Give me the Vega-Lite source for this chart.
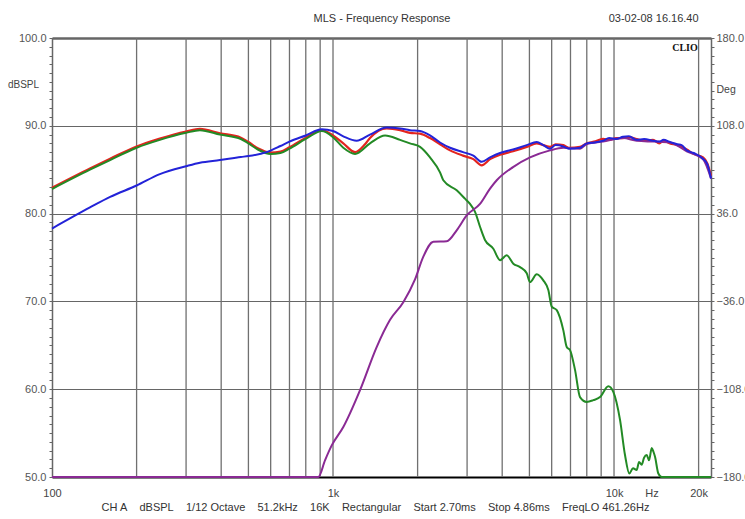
{
  "$schema": "https://vega.github.io/schema/vega-lite/v6.json",
  "width": 659,
  "height": 439,
  "autosize": "none",
  "padding": {"left": 52, "top": 38, "right": 34, "bottom": 42},
  "background": "white",
  "config": {
    "font": "Liberation Sans",
    "view": {"stroke": "#666", "strokeWidth": 1}
  },
  "datasets": {
    "grid": [
      {"f": 200}, {"f": 300}, {"f": 400}, {"f": 500}, {"f": 600}, {"f": 700}, {"f": 800}, {"f": 900},
      {"f": 1000}, {"f": 2000}, {"f": 3000}, {"f": 4000}, {"f": 5000}, {"f": 6000}, {"f": 7000}, {"f": 8000}, {"f": 9000},
      {"f": 10000}, {"f": 20000}
    ],
    "curves": [
      {"s": "red", "f": 100, "db": 82.95}, {"s": "red", "f": 136.5, "db": 85.15}, {"s": "red", "f": 161, "db": 86.25},
      {"s": "red", "f": 200, "db": 87.65}, {"s": "red", "f": 242, "db": 88.55}, {"s": "red", "f": 300, "db": 89.35},
      {"s": "red", "f": 336, "db": 89.65}, {"s": "red", "f": 396, "db": 89.15}, {"s": "red", "f": 470, "db": 88.65},
      {"s": "red", "f": 500, "db": 88.15}, {"s": "red", "f": 540, "db": 87.45}, {"s": "red", "f": 600, "db": 86.95},
      {"s": "red", "f": 650, "db": 87.05}, {"s": "red", "f": 700, "db": 87.55}, {"s": "red", "f": 800, "db": 88.65},
      {"s": "red", "f": 912, "db": 89.5}, {"s": "red", "f": 1000, "db": 88.9}, {"s": "red", "f": 1088, "db": 88.0},
      {"s": "red", "f": 1198, "db": 87.0}, {"s": "red", "f": 1300, "db": 87.9}, {"s": "red", "f": 1354, "db": 88.6},
      {"s": "red", "f": 1553, "db": 89.7}, {"s": "red", "f": 1732, "db": 89.5}, {"s": "red", "f": 1879, "db": 89.2},
      {"s": "red", "f": 2040, "db": 89.1}, {"s": "red", "f": 2214, "db": 88.6}, {"s": "red", "f": 2403, "db": 87.9},
      {"s": "red", "f": 2609, "db": 87.2}, {"s": "red", "f": 2901, "db": 86.6}, {"s": "red", "f": 3158, "db": 86.2},
      {"s": "red", "f": 3382, "db": 85.5}, {"s": "red", "f": 3621, "db": 86.2}, {"s": "red", "f": 3930, "db": 86.7},
      {"s": "red", "f": 4372, "db": 87.1}, {"s": "red", "f": 4891, "db": 87.6}, {"s": "red", "f": 5308, "db": 88.0},
      {"s": "red", "f": 5920, "db": 87.6}, {"s": "red", "f": 6200, "db": 87.9}, {"s": "red", "f": 6602, "db": 87.8},
      {"s": "red", "f": 6900, "db": 87.5}, {"s": "red", "f": 7568, "db": 87.6}, {"s": "red", "f": 7995, "db": 88.0},
      {"s": "red", "f": 8500, "db": 88.2}, {"s": "red", "f": 9140, "db": 88.5}, {"s": "red", "f": 9600, "db": 88.4},
      {"s": "red", "f": 10200, "db": 88.6}, {"s": "red", "f": 10765, "db": 88.6}, {"s": "red", "f": 11300, "db": 88.7},
      {"s": "red", "f": 12044, "db": 88.5}, {"s": "red", "f": 12800, "db": 88.3}, {"s": "red", "f": 13767, "db": 88.4},
      {"s": "red", "f": 14500, "db": 88.0}, {"s": "red", "f": 15000, "db": 88.3}, {"s": "red", "f": 15822, "db": 88.0},
      {"s": "red", "f": 16800, "db": 87.8}, {"s": "red", "f": 17400, "db": 87.6}, {"s": "red", "f": 18145, "db": 87.3},
      {"s": "red", "f": 19200, "db": 86.8}, {"s": "red", "f": 20739, "db": 86.4}, {"s": "red", "f": 21500, "db": 85.7},
      {"s": "red", "f": 22137, "db": 84.3},

      {"s": "green", "f": 100, "db": 82.8}, {"s": "green", "f": 136.5, "db": 85.0}, {"s": "green", "f": 161, "db": 86.1},
      {"s": "green", "f": 200, "db": 87.5}, {"s": "green", "f": 242, "db": 88.4}, {"s": "green", "f": 300, "db": 89.2},
      {"s": "green", "f": 336, "db": 89.5}, {"s": "green", "f": 396, "db": 89.0}, {"s": "green", "f": 470, "db": 88.5},
      {"s": "green", "f": 500, "db": 88.0}, {"s": "green", "f": 540, "db": 87.3}, {"s": "green", "f": 600, "db": 86.8},
      {"s": "green", "f": 650, "db": 86.9}, {"s": "green", "f": 700, "db": 87.4}, {"s": "green", "f": 800, "db": 88.5},
      {"s": "green", "f": 912, "db": 89.4}, {"s": "green", "f": 1000, "db": 88.7}, {"s": "green", "f": 1088, "db": 87.5},
      {"s": "green", "f": 1198, "db": 86.8}, {"s": "green", "f": 1354, "db": 88.0}, {"s": "green", "f": 1532, "db": 88.9},
      {"s": "green", "f": 1732, "db": 88.4}, {"s": "green", "f": 1879, "db": 88.0}, {"s": "green", "f": 2040, "db": 87.6},
      {"s": "green", "f": 2214, "db": 86.4}, {"s": "green", "f": 2403, "db": 84.7}, {"s": "green", "f": 2469, "db": 83.8},
      {"s": "green", "f": 2755, "db": 82.65}, {"s": "green", "f": 2949, "db": 81.7}, {"s": "green", "f": 3073, "db": 81.1},
      {"s": "green", "f": 3202, "db": 80.2}, {"s": "green", "f": 3335, "db": 78.5}, {"s": "green", "f": 3474, "db": 77.0},
      {"s": "green", "f": 3720, "db": 76.0}, {"s": "green", "f": 3930, "db": 74.7}, {"s": "green", "f": 4151, "db": 75.25},
      {"s": "green", "f": 4382, "db": 74.3}, {"s": "green", "f": 4630, "db": 73.9}, {"s": "green", "f": 4891, "db": 73.2},
      {"s": "green", "f": 5024, "db": 72.2}, {"s": "green", "f": 5308, "db": 73.1}, {"s": "green", "f": 5603, "db": 72.4},
      {"s": "green", "f": 5838, "db": 71.3}, {"s": "green", "f": 6002, "db": 69.4}, {"s": "green", "f": 6254, "db": 69.0},
      {"s": "green", "f": 6602, "db": 66.7}, {"s": "green", "f": 6788, "db": 64.8}, {"s": "green", "f": 6974, "db": 64.45},
      {"s": "green", "f": 7265, "db": 62.2}, {"s": "green", "f": 7568, "db": 59.1}, {"s": "green", "f": 7995, "db": 58.55},
      {"s": "green", "f": 8440, "db": 58.75}, {"s": "green", "f": 8917, "db": 59.1}, {"s": "green", "f": 9544, "db": 60.35},
      {"s": "green", "f": 9942, "db": 59.7}, {"s": "green", "f": 10505, "db": 56.5}, {"s": "green", "f": 10942, "db": 52.5},
      {"s": "green", "f": 11335, "db": 50.4}, {"s": "green", "f": 11684, "db": 51.0}, {"s": "green", "f": 12044, "db": 50.8},
      {"s": "green", "f": 12274, "db": 51.7}, {"s": "green", "f": 12548, "db": 51.4}, {"s": "green", "f": 12790, "db": 52.2},
      {"s": "green", "f": 13073, "db": 52.5}, {"s": "green", "f": 13325, "db": 51.9}, {"s": "green", "f": 13621, "db": 53.3},
      {"s": "green", "f": 13824, "db": 52.85}, {"s": "green", "f": 13994, "db": 52.3}, {"s": "green", "f": 14378, "db": 50.4},
      {"s": "green", "f": 14786, "db": 50.0}, {"s": "green", "f": 22137, "db": 50.0},

      {"s": "purple", "f": 100, "db": 50.0}, {"s": "purple", "f": 886.6, "db": 50.0}, {"s": "purple", "f": 936.5, "db": 51.9},
      {"s": "purple", "f": 989.5, "db": 53.6}, {"s": "purple", "f": 1088, "db": 55.7}, {"s": "purple", "f": 1248, "db": 59.9},
      {"s": "purple", "f": 1430, "db": 64.8}, {"s": "purple", "f": 1596, "db": 67.9}, {"s": "purple", "f": 1779, "db": 69.9},
      {"s": "purple", "f": 1958, "db": 72.5}, {"s": "purple", "f": 2096, "db": 75.1}, {"s": "purple", "f": 2275, "db": 76.8},
      {"s": "purple", "f": 2539, "db": 76.85}, {"s": "purple", "f": 2755, "db": 78.1}, {"s": "purple", "f": 2991, "db": 79.8},
      {"s": "purple", "f": 3335, "db": 81.1}, {"s": "purple", "f": 3621, "db": 82.85}, {"s": "purple", "f": 3825, "db": 83.8},
      {"s": "purple", "f": 4372, "db": 85.3}, {"s": "purple", "f": 5024, "db": 86.4}, {"s": "purple", "f": 5920, "db": 87.2},
      {"s": "purple", "f": 6602, "db": 87.5}, {"s": "purple", "f": 7568, "db": 87.4}, {"s": "purple", "f": 7995, "db": 87.9},
      {"s": "purple", "f": 9140, "db": 88.2}, {"s": "purple", "f": 10765, "db": 88.6}, {"s": "purple", "f": 12044, "db": 88.3},
      {"s": "purple", "f": 13767, "db": 88.2}, {"s": "purple", "f": 15822, "db": 88.1}, {"s": "purple", "f": 18145, "db": 87.1},
      {"s": "purple", "f": 20739, "db": 86.2}, {"s": "purple", "f": 22137, "db": 84.0},

      {"s": "blue", "f": 100, "db": 78.3}, {"s": "blue", "f": 136.5, "db": 80.7}, {"s": "blue", "f": 161, "db": 81.9},
      {"s": "blue", "f": 200, "db": 83.2}, {"s": "blue", "f": 242, "db": 84.5}, {"s": "blue", "f": 300, "db": 85.4},
      {"s": "blue", "f": 336, "db": 85.8}, {"s": "blue", "f": 396, "db": 86.1}, {"s": "blue", "f": 470, "db": 86.45},
      {"s": "blue", "f": 500, "db": 86.55}, {"s": "blue", "f": 580, "db": 87.0}, {"s": "blue", "f": 650, "db": 87.7},
      {"s": "blue", "f": 700, "db": 88.2}, {"s": "blue", "f": 800, "db": 88.9}, {"s": "blue", "f": 912, "db": 89.6},
      {"s": "blue", "f": 1000, "db": 89.4}, {"s": "blue", "f": 1088, "db": 88.8}, {"s": "blue", "f": 1214, "db": 88.3},
      {"s": "blue", "f": 1354, "db": 89.0}, {"s": "blue", "f": 1553, "db": 89.8}, {"s": "blue", "f": 1732, "db": 89.7},
      {"s": "blue", "f": 1879, "db": 89.5}, {"s": "blue", "f": 2040, "db": 89.4}, {"s": "blue", "f": 2214, "db": 88.9},
      {"s": "blue", "f": 2403, "db": 88.1}, {"s": "blue", "f": 2609, "db": 87.5}, {"s": "blue", "f": 2901, "db": 87.0},
      {"s": "blue", "f": 3158, "db": 86.6}, {"s": "blue", "f": 3382, "db": 85.9}, {"s": "blue", "f": 3621, "db": 86.4},
      {"s": "blue", "f": 3930, "db": 86.9}, {"s": "blue", "f": 4372, "db": 87.3}, {"s": "blue", "f": 4891, "db": 87.8},
      {"s": "blue", "f": 5308, "db": 88.15}, {"s": "blue", "f": 5600, "db": 87.8}, {"s": "blue", "f": 5920, "db": 87.4},
      {"s": "blue", "f": 6200, "db": 87.8}, {"s": "blue", "f": 6602, "db": 87.65}, {"s": "blue", "f": 6900, "db": 87.4},
      {"s": "blue", "f": 7568, "db": 87.5}, {"s": "blue", "f": 7995, "db": 88.0}, {"s": "blue", "f": 8500, "db": 88.1},
      {"s": "blue", "f": 9140, "db": 88.3}, {"s": "blue", "f": 9600, "db": 88.6}, {"s": "blue", "f": 10200, "db": 88.5},
      {"s": "blue", "f": 10765, "db": 88.75}, {"s": "blue", "f": 11300, "db": 88.8}, {"s": "blue", "f": 12044, "db": 88.4},
      {"s": "blue", "f": 12800, "db": 88.5}, {"s": "blue", "f": 13767, "db": 88.3}, {"s": "blue", "f": 14500, "db": 88.2},
      {"s": "blue", "f": 15000, "db": 88.4}, {"s": "blue", "f": 15822, "db": 88.15}, {"s": "blue", "f": 16800, "db": 87.9},
      {"s": "blue", "f": 17400, "db": 87.8}, {"s": "blue", "f": 18145, "db": 87.2}, {"s": "blue", "f": 19200, "db": 86.9},
      {"s": "blue", "f": 20739, "db": 86.25}, {"s": "blue", "f": 21500, "db": 85.6}, {"s": "blue", "f": 22137, "db": 84.0}
    ]
  },
  "layer": [
    {
      "encoding": {
        "x": {
          "field": "f",
          "type": "quantitative",
          "scale": {"type": "log", "domain": [100, 22137], "nice": false},
          "axis": {
            "values": [100, 1000, 10000, 13600, 20000],
            "labelExpr": "datum.value == 100 ? '100' : datum.value == 1000 ? '1k' : datum.value == 10000 ? '10k' : datum.value == 13600 ? 'Hz' : '20k'",
            "grid": false,
            "ticks": false,
            "domainColor": "#000",
            "domainWidth": 2,
            "labelFontSize": 11,
            "labelColor": "#444",
            "labelPadding": 10,
            "labelFlush": false,
            "title": "CH A\u00a0\u00a0\u00a0\u00a0dBSPL\u00a0\u00a0\u00a0\u00a01/12 Octave\u00a0\u00a0\u00a0\u00a051.2kHz\u00a0\u00a0\u00a0\u00a016K\u00a0\u00a0\u00a0\u00a0Rectangular\u00a0\u00a0\u00a0\u00a0Start 2.70ms\u00a0\u00a0\u00a0\u00a0Stop 4.86ms\u00a0\u00a0\u00a0\u00a0FreqLO 461.26Hz",
            "titleFontSize": 11,
            "titleFontWeight": "normal",
            "titleColor": "#333",
            "titleX": 323,
            "titleAlign": "center",
            "titlePadding": 3
          }
        }
      },
      "layer": [
        {
          "data": {"name": "grid"},
          "mark": {"type": "rule", "color": "#707070", "strokeWidth": 1.3}
        },
        {
          "encoding": {
            "y": {
              "field": "db",
              "type": "quantitative",
              "scale": {"domain": [50, 100], "nice": false, "zero": false},
              "axis": {
                "values": [50,51,52,53,54,55,56,57,58,59,60,61,62,63,64,65,66,67,68,69,70,71,72,73,74,75,76,77,78,79,80,81,82,83,84,85,86,87,88,89,90,91,92,93,94,95,96,97,98,99,100],
                "labelExpr": "datum.value % 10 === 0 ? format(datum.value, '.1f') : ''",
                "grid": true,
                "gridColor": "#666",
                "gridOpacity": {"condition": {"test": "datum.value % 10 === 0", "value": 1}, "value": 0},
                "gridWidth": {"condition": {"test": "datum.value === 100", "value": 2.5}, "value": 1.2},
                "tickSize": 3,
                "tickColor": "#666",
                "domainColor": "#666",
                "domainWidth": 1.5,
                "labelFontSize": 11,
                "labelColor": "#555",
                "labelPadding": 3,
                "title": "dBSPL",
                "titleAngle": 0,
                "titleX": -29,
                "titleY": 46,
                "titleAlign": "center",
                "titleBaseline": "middle",
                "titleFontSize": 10,
                "titleFontWeight": "normal",
                "titleColor": "#444"
              }
            }
          },
          "layer": [
            {
              "data": {"name": "curves"},
              "transform": [{"filter": "datum.s === 'red'"}],
              "mark": {"type": "line", "color": "#e3241f", "strokeWidth": 2.2, "interpolate": "monotone"}
            },
            {
              "data": {"name": "curves"},
              "transform": [{"filter": "datum.s === 'green'"}],
              "mark": {"type": "line", "color": "#238a25", "strokeWidth": 2, "interpolate": "monotone"}
            },
            {
              "data": {"name": "curves"},
              "transform": [{"filter": "datum.s === 'purple'"}],
              "mark": {"type": "line", "color": "#8a2a94", "strokeWidth": 2, "interpolate": "monotone"}
            },
            {
              "data": {"name": "curves"},
              "transform": [{"filter": "datum.s === 'blue'"}],
              "mark": {"type": "line", "color": "#2323d8", "strokeWidth": 2, "interpolate": "monotone"}
            },
            {
              "data": {"values": [{"f": 17890, "db": 98.9, "label": "CLIO"}]},
              "mark": {"type": "text", "font": "Liberation Serif", "fontWeight": "bold", "fontSize": 10, "color": "#111", "align": "center", "baseline": "middle"},
              "encoding": {"text": {"field": "label"}}
            },
            {
              "data": {"values": [{"f": 1494, "db": 102.2, "label": "MLS - Frequency Response"}]},
              "mark": {"type": "text", "fontSize": 11, "color": "#333", "align": "center", "baseline": "middle"},
              "encoding": {"text": {"field": "label"}}
            },
            {
              "data": {"values": [{"f": 20000, "db": 102.2, "label": "03-02-08 16.16.40"}]},
              "mark": {"type": "text", "fontSize": 11, "color": "#333", "align": "right", "baseline": "middle"},
              "encoding": {"text": {"field": "label"}}
            }
          ]
        }
      ]
    },
    {
      "data": {"values": [{"deg": -180}, {"deg": 180}]},
      "mark": {"type": "rule", "opacity": 0},
      "encoding": {
        "y": {
          "field": "deg",
          "type": "quantitative",
          "scale": {"domain": [-180, 180], "nice": false, "zero": false},
          "axis": {
            "orient": "right",
            "values": [-180,-172.8,-165.6,-158.4,-151.2,-144,-136.8,-129.6,-122.4,-115.2,-108,-100.8,-93.6,-86.4,-79.2,-72,-64.8,-57.6,-50.4,-43.2,-36,-28.8,-21.6,-14.4,-7.2,0,7.2,14.4,21.6,28.8,36,43.2,50.4,57.6,64.8,72,79.2,86.4,93.6,100.8,108,115.2,122.4,129.6,136.8,144,151.2,158.4,165.6,172.8,180],
            "labelExpr": "abs((datum.value + 180) % 72) < 0.01 ? format(datum.value, '.1f') : ''",
            "grid": false,
            "tickSize": 3,
            "tickColor": "#666",
            "domainColor": "#666",
            "domainWidth": 1.5,
            "labelFontSize": 11,
            "labelColor": "#555",
            "labelPadding": 2,
            "title": "Deg",
            "titleAngle": 0,
            "titleX": 5,
            "titleY": 51,
            "titleAlign": "left",
            "titleBaseline": "middle",
            "titleFontSize": 10.5,
            "titleFontWeight": "normal",
            "titleColor": "#444"
          }
        }
      }
    }
  ],
  "resolve": {"scale": {"y": "independent"}}
}
